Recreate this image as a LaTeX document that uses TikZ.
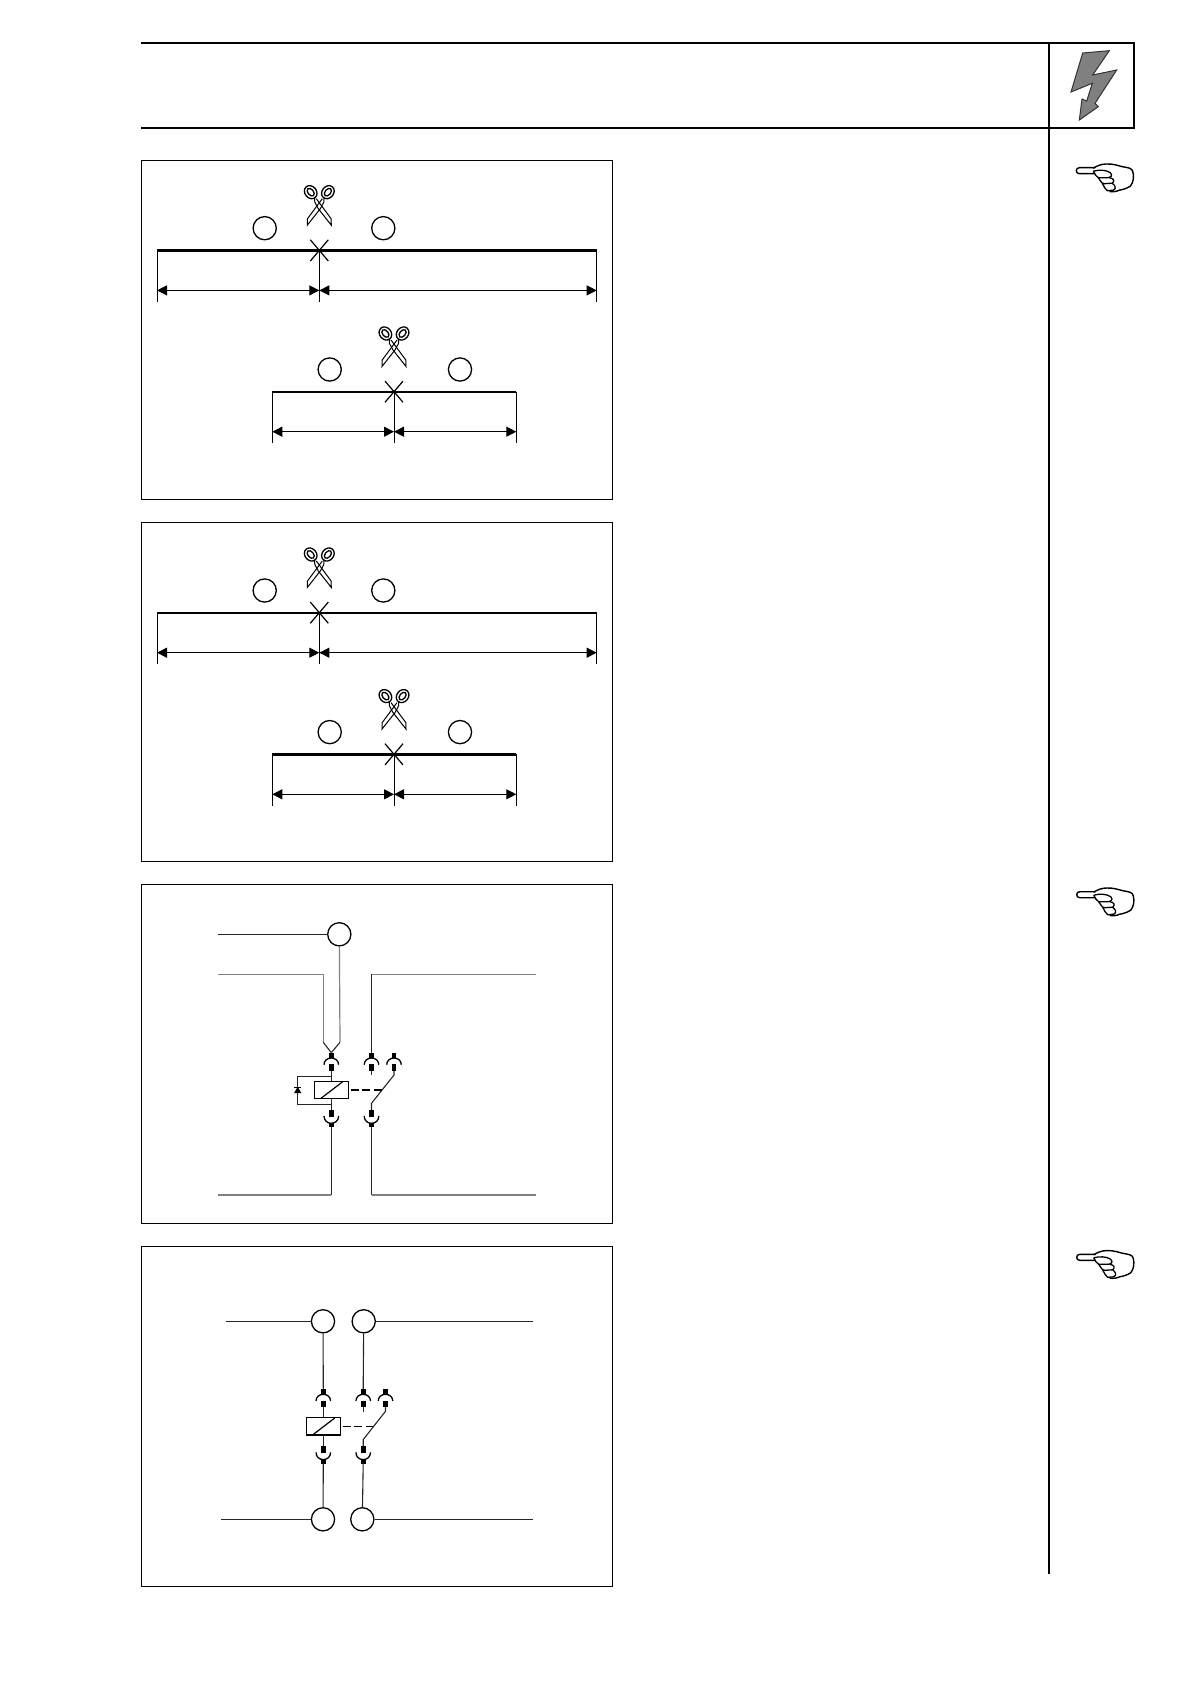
\documentclass[tikz,border=0pt]{standalone}
\usetikzlibrary{arrows.meta}

\tikzset{
  pen/.style={line width=0.5pt},
  wire/.style={line width=0.55pt,black!85},
  palewire/.style={line width=0.6pt,black!50},
  frame/.style={line width=0.65pt},
  rule/.style={line width=1pt},
  term/.style={circle,draw,inner sep=0pt,minimum size=11.6pt,line width=0.65pt},
  coil/.style={rectangle,draw,inner sep=0pt,minimum width=17.2pt,minimum height=8.7pt,line width=0.65pt},
  dimline/.style={pen,{Triangle[length=5pt,width=5pt]}-{Triangle[length=5pt,width=5pt]}},
  ring/.style={shift={(-8.6,-11)},rotate=-50},
  sockup/.pic={
    \fill (-2.3,0) rectangle (2.3,5.3);
    \draw[line width=0.65pt] (-7.3,12) .. controls (-7.3,8) and (-4,5.3) .. (0,5.3) .. controls (4,5.3) and (7.3,8) .. (7.3,12);
    \fill (-2.3,11.5) rectangle (2.3,18);
  },
  sockdown/.pic={
    \fill (-2.3,0) rectangle (2.3,7);
    \draw[line width=0.65pt] (-7.3,6) .. controls (-7.3,10.5) and (-4,13.3) .. (0,13.3) .. controls (4,13.3) and (7.3,10.5) .. (7.3,6);
    \fill (-2.3,12.7) rectangle (2.3,17.3);
  },
  shears/.pic={
    \draw[pen] (-3,-4.5) -- (11.8,15.5) -- (12,22) -- (-1,5.5) -- (-4.5,-1) -- (-4.8,-6);
    \draw[pen,xscale=-1] (-3,-4.5) -- (11.8,15.5) -- (12,22) -- (-1,5.5) -- (-4.5,-1) -- (-4.8,-6);
    \draw[line width=0.65pt,ring] (0,0) ellipse [x radius=3.5pt,y radius=2.9pt] (0,0) ellipse [x radius=2.2pt,y radius=1.4pt];
    \draw[line width=0.65pt,xscale=-1,ring] (0,0) ellipse [x radius=3.5pt,y radius=2.9pt] (0,0) ellipse [x radius=2.2pt,y radius=1.4pt];
  },
  hand/.pic={
    \draw[line width=0.7pt,line join=round] (19,-3) -- (3,-3) .. controls (-1,-3) and (-1,3) .. (3,3) -- (19,3);
    \draw[line width=0.7pt,line join=round] (17,-2.5) .. controls (21,-5) and (25,-6.7) .. (30,-6.7) .. controls (37,-7) and (42,-5) .. (46,-4) .. controls (52,-3) and (56,-2.5) .. (56.5,1) .. controls (58,6) and (57,12) .. (54,15.5) .. controls (50,18) and (46,19) .. (43,19.5) .. controls (40,21) and (36,21.3) .. (33,20.8);
    \draw[line width=0.65pt] (17,0.5) .. controls (22,-1) and (30,-1) .. (34,2) .. controls (37,5) and (34,7) .. (31,7) -- (22,7) .. controls (20,6) and (18,3) .. (17,0.5);
    \draw[line width=0.65pt] (22,7) .. controls (26,13) and (26,13) .. (28,13) -- (36,12.5) .. controls (39,10) and (37,7.5) .. (33,7);
    \draw[line width=0.65pt] (26,12.8) .. controls (28,16) and (29,19) .. (31,20) -- (37,19.5) .. controls (41,18) and (38,13.5) .. (36,12.8);
  },
}

\newcommand{\cutrun}[8]{
  \coordinate (#1l) at (#2,#5);
  \coordinate (#1m) at (#3,#5);
  \coordinate (#1r) at (#4,#5);
  \coordinate (#1lb) at (#2,#5+51.5);
  \coordinate (#1mb) at (#3,#5+51.5);
  \coordinate (#1rb) at (#4,#5+51.5);
  \coordinate (#1la) at (#2,#5+40);
  \coordinate (#1ma) at (#3,#5+40);
  \coordinate (#1ra) at (#4,#5+40);
  \draw[line width=#6] (#1l) -- (#1r);
  \draw[pen] (#1l) -- (#1lb);
  \draw[pen] (#1m) -- (#1mb);
  \draw[pen] (#1r) -- (#1rb);
  \draw[dimline] (#1la) -- (#1ma);
  \draw[dimline] (#1ma) -- (#1ra);
  \draw[line width=0.6pt] (#3-9,#5-10.6) -- (#3+9,#5+10.6);
  \draw[line width=0.6pt] (#3-9,#5+10.6) -- (#3+9,#5-10.6);
  \node[term] (#1a) at (#7,#5-22.2) {};
  \node[term] (#1b) at (#8,#5-22.2) {};
  \pic at (#3,#5-47.2) {shears};
}

\newcommand{\relay}[5]{
  \pic at (#2,#5) {sockup};
  \pic at (#3,#5) {sockup};
  \pic at (#4,#5) {sockup};
  \pic at (#2,#5+57.3) {sockdown};
  \pic at (#3,#5+57.3) {sockdown};
  \node[coil] (#1k) at (#2+0.2,#5+37.3) {};
  \draw[line width=0.6pt] (#2-10.8,#5+46) -- (#2+11.4,#5+29);
  \coordinate (#1ta) at (#2,#5);
  \coordinate (#1tb) at (#3,#5);
  \coordinate (#1ba) at (#2,#5+74.6);
  \coordinate (#1bb) at (#3,#5+74.6);
  \coordinate (#1sa) at (#2,#5+18);
  \coordinate (#1sb) at (#2,#5+57.3);
  \coordinate (#1pa) at (#3,#5+18);
  \coordinate (#1pb) at (#3,#5+22.5);
  \coordinate (#1qa) at (#4,#5+18);
  \coordinate (#1qb) at (#4,#5+22.3);
  \coordinate (#1qc) at (#3,#5+50.6);
  \coordinate (#1qd) at (#3,#5+57.3);
  \coordinate (#1d) at (#3+10,#5+37.3);
  \draw[wire] (#1sa) -- (#1k.north-|#1sa);
  \draw[wire] (#1k.south-|#1sa) -- (#1sb);
  \draw[wire] (#1pa) -- (#1pb);
  \draw[wire] (#1qa) -- (#1qb) -- (#1qc) -- (#1qd);
  \draw[line width=0.8pt,dash pattern=on 4pt off 1.7pt] (#1k.east) ++(1.5,0) -- (#1d);
}

\begin{document}
\begin{tikzpicture}[x=0.5pt,y=-0.5pt]
\useasboundingbox (0,0) rectangle (1190,1684);

\coordinate (hl) at (141,43);
\coordinate (hr) at (1134,43);
\coordinate (ul) at (141,127.7);
\coordinate (ur) at (1134,127.7);
\coordinate (vt) at (1049,43);
\coordinate (ve) at (1049,1574);
\draw[rule] (hl) -- (hr) -- (ur) -- (ul);
\draw[rule] (vt) -- (ve);
\draw[line width=0.5pt,black!80,fill=black!50] (1082.7,53) -- (1109.3,50.7) -- (1092.7,75) -- (1116.7,70) -- (1095,103.3) -- (1098.3,106.7) -- (1079.3,120) -- (1082,99) -- (1086.7,101) -- (1092.3,83.3) -- (1071,92) -- cycle;
\pic at (1076.3,170.7) {hand};
\pic at (1076.7,894.7) {hand};
\pic at (1076.7,1257.3) {hand};

\draw[frame] (141.3,160.3) rectangle (612.3,499.3);
\draw[frame] (141.3,522.7) rectangle (612.3,861.3);
\draw[frame] (141.3,884.3) rectangle (612.3,1223.3);
\draw[frame] (141.3,1246.7) rectangle (612.3,1586.7);

\cutrun{pa}{157}{319.3}{596.7}{250.4}{1.5pt}{264.7}{383.3}
\cutrun{pb}{272.3}{394}{516.3}{391.7}{0.95pt}{329.7}{460}
\cutrun{qa}{157}{319.3}{596.7}{612.7}{0.95pt}{264.7}{383.3}
\cutrun{qb}{272.3}{394}{516.3}{754.3}{1.35pt}{329.7}{460}

\relay{r}{331.3}{371.5}{394}{1052.7}
\node[term] (rc) at (339.3,934.3) {};
\coordinate (rcw) at (218,934.3);
\coordinate (rcv) at (340,1042.3);
\coordinate (rlw) at (218,974.3);
\coordinate (rlc) at (323.3,974.3);
\coordinate (rlv) at (323.3,1042.3);
\coordinate (rrw) at (536,974.3);
\coordinate (rrc) at (371.5,974.3);
\coordinate (rbl) at (218,1195);
\coordinate (rbc) at (331.3,1195);
\coordinate (rbr) at (536,1195);
\coordinate (rbd) at (371.5,1195);
\draw[wire] (rcw) -- (rc);
\draw[palewire] (rc) -- (rcv);
\draw[wire] (rcv) -- (rta);
\draw[palewire] (rlw) -- (rlc) -- (rlv);
\draw[wire] (rlv) -- (rta);
\draw[palewire] (rrw) -- (rrc);
\draw[wire] (rrc) -- (rtb);
\draw[wire] (rba) -- (rbc);
\draw[palewire] (rbc) -- (rbl);
\draw[wire] (rbb) -- (rbd);
\draw[palewire] (rbd) -- (rbr);
\coordinate (da) at (331.3,1076.3);
\coordinate (db) at (297.7,1076.3);
\coordinate (dc) at (297.7,1104.3);
\coordinate (dd) at (331.3,1104.3);
\draw[wire] (da) -- (db) -- (dc) -- (dd);
\fill (297.7,1086.8) -- (301.3,1093) -- (294.1,1093) -- cycle;
\draw[pen] (294.1,1087) -- (301.3,1087);

\relay{s}{323.3}{363.2}{385.5}{1389}
\node[term] (sa) at (323,1321.3) {};
\node[term] (sb) at (363.7,1321.3) {};
\node[term] (sc) at (323,1519.3) {};
\node[term] (sd) at (362.3,1519.3) {};
\coordinate (sal) at (225.7,1321.3);
\coordinate (sbr) at (532.7,1321.3);
\coordinate (scl) at (221,1519.3);
\coordinate (sdr) at (532.7,1519.3);
\draw[wire] (sal) -- (sa);
\draw[wire] (sb) -- (sbr);
\draw[wire] (scl) -- (sc);
\draw[wire] (sd) -- (sdr);
\draw[wire] (sa) -- (sta);
\draw[wire] (sb) -- (stb);
\draw[wire] (sba) -- (sc);
\draw[wire] (sbb) -- (sd);
\end{tikzpicture}
\end{document}
